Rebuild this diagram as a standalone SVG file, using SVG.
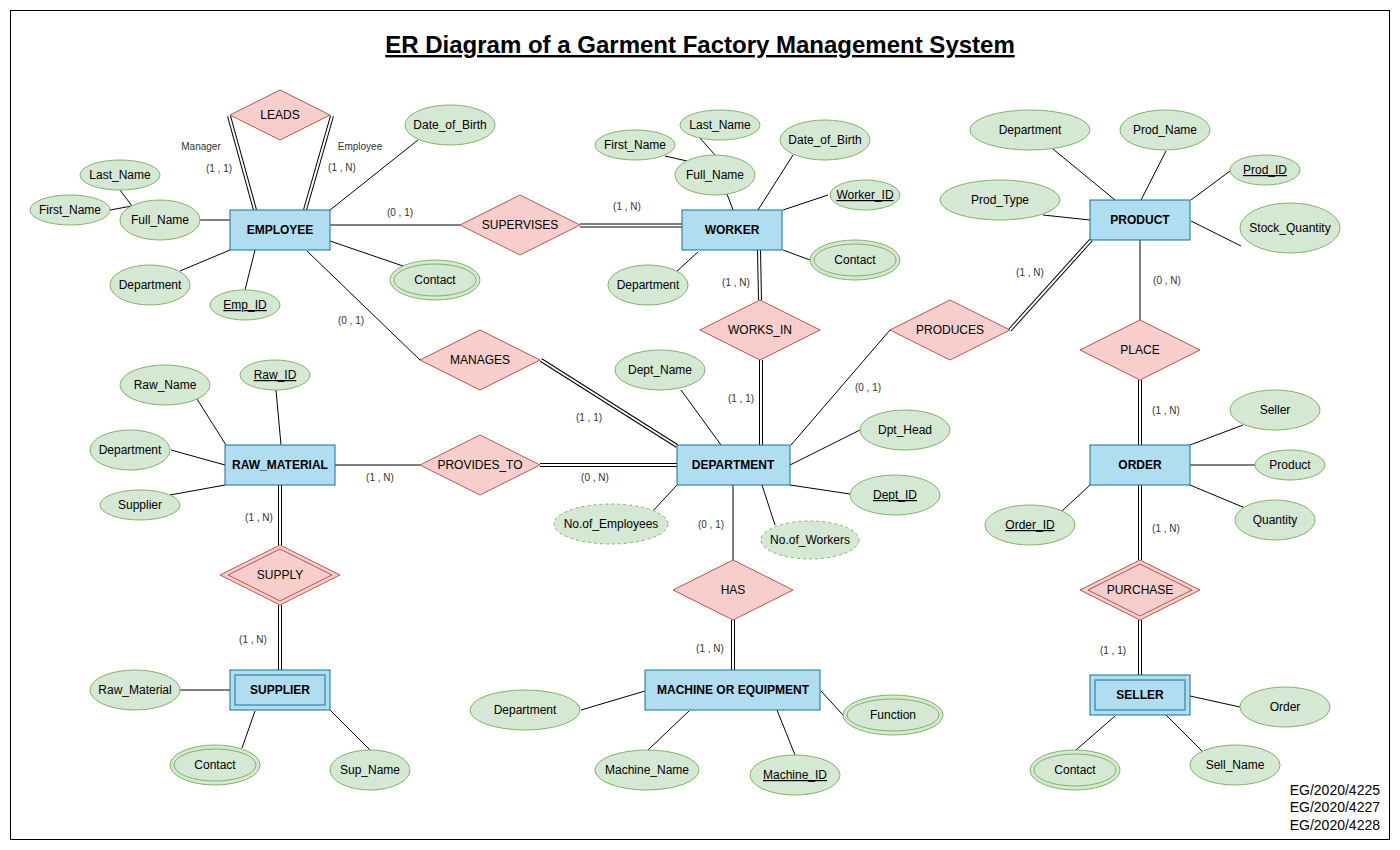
<svg xmlns="http://www.w3.org/2000/svg" width="1400" height="850" viewBox="0 0 1400 850">
<style>
.ent{fill:#b1ddf0;stroke:#10739e;stroke-width:1}
.att{fill:#d5e8d4;stroke:#82b366;stroke-width:1}
.rel{fill:#f8cecc;stroke:#b85450;stroke-width:1}
.der{stroke-dasharray:3 3}
.t{font-family:"Liberation Sans",Arial,sans-serif;font-size:12px;text-anchor:middle;fill:#000}
.b{font-weight:bold}
.u{text-decoration:underline}
.c{font-family:"Liberation Sans",Arial,sans-serif;font-size:10px;text-anchor:middle;fill:#333}
.ln{stroke:#000;stroke-width:1;fill:none}
.d1{stroke:#000;stroke-width:4;fill:none}
.d2{stroke:#fff;stroke-width:2;fill:none}
</style>
<rect x="10.5" y="10.5" width="1379" height="829" fill="#fff" stroke="#000"/>
<text x="700" y="53" font-family="Liberation Sans, Arial, sans-serif" font-size="24" font-weight="bold" text-anchor="middle" text-decoration="underline">ER Diagram of a Garment Factory Management System</text>

<g id="connectors">
<g class="ln">
<path d="M330,225 L460,225"/>
<path d="M307,251 L420,360"/>
<path d="M335,465 L420,465"/>
<path d="M791,445 L890,330"/>
<path d="M1140,240 L1140,320"/>
<path d="M733,485 L733,560"/>
<path d="M200,220 L230,220"/>
<path d="M120,190 L132,206"/>
<path d="M110,210 L132,206"/>
<path d="M180,271 L230,250"/>
<path d="M245,290 L255,250"/>
<path d="M330,241 L403,266"/>
<path d="M418,140 L330,210"/>
<path d="M665,156 L687,161"/>
<path d="M700,138 L715,155"/>
<path d="M727,194 L733,210"/>
<path d="M793,155 L758,210"/>
<path d="M828,195 L783,210"/>
<path d="M810,260 L783,250"/>
<path d="M676,272 L698,252"/>
<path d="M1053,149 L1115,200"/>
<path d="M1166,151 L1141,200"/>
<path d="M1230,171 L1191,200"/>
<path d="M1043,215 L1090,220"/>
<path d="M1191,221 L1241,246"/>
<path d="M1243,425 L1190,445"/>
<path d="M1255,465 L1190,465"/>
<path d="M1245,508 L1190,485"/>
<path d="M1062,511 L1090,485"/>
<path d="M1240,707 L1190,696"/>
<path d="M1076,750 L1115,716"/>
<path d="M1203,752 L1166,715"/>
<path d="M197,399 L226,445"/>
<path d="M276,390 L281,445"/>
<path d="M171,450 L225,465"/>
<path d="M170,495 L225,485"/>
<path d="M180,690 L230,690"/>
<path d="M242,748 L255,711"/>
<path d="M370,750 L330,710"/>
<path d="M681,390 L721,445"/>
<path d="M860,430 L790,465"/>
<path d="M850,494 L790,485"/>
<path d="M775,525 L762,485"/>
<path d="M652,512 L677,485"/>
<path d="M581,710 L645,691"/>
<path d="M648,750 L689,711"/>
<path d="M795,755 L777,710"/>
<path d="M843,715 L821,691"/>
</g>
<g class="d1">
<path d="M229,116 L255,210"/>
<path d="M332,116 L305,210"/>
<path d="M580,225.5 L682,225.5"/>
<path d="M759,250 L760,300"/>
<path d="M761,360 L761,445"/>
<path d="M541,360 L677,446"/>
<path d="M540,465 L677,465"/>
<path d="M1010,330 L1091,240"/>
<path d="M1140,380 L1140,445"/>
<path d="M1140,485 L1140,560"/>
<path d="M1140,620 L1140,675"/>
<path d="M280,485 L280,545"/>
<path d="M280,605 L280,670"/>
<path d="M733,620 L733,670"/>
</g>
<g class="d2">
<path d="M229,116 L255,210"/>
<path d="M332,116 L305,210"/>
<path d="M580,225.5 L682,225.5"/>
<path d="M759,250 L760,300"/>
<path d="M761,360 L761,445"/>
<path d="M541,360 L677,446"/>
<path d="M540,465 L677,465"/>
<path d="M1010,330 L1091,240"/>
<path d="M1140,380 L1140,445"/>
<path d="M1140,485 L1140,560"/>
<path d="M1140,620 L1140,675"/>
<path d="M280,485 L280,545"/>
<path d="M280,605 L280,670"/>
<path d="M733,620 L733,670"/>
</g>
<g id="cardinalities">
<text class="c" x="201" y="150">Manager</text>
<text class="c" x="360" y="150">Employee</text>
<text class="c" x="219" y="172">(1 , 1)</text>
<text class="c" x="342" y="171">(1 , N)</text>
<text class="c" x="400" y="216">(0 , 1)</text>
<text class="c" x="627" y="210">(1 , N)</text>
<text class="c" x="736" y="286">(1 , N)</text>
<text class="c" x="351" y="324">(0 , 1)</text>
<text class="c" x="589" y="421">(1 , 1)</text>
<text class="c" x="741" y="402">(1 , 1)</text>
<text class="c" x="868" y="391">(0 , 1)</text>
<text class="c" x="1030" y="276">(1 , N)</text>
<text class="c" x="1167" y="284">(0 , N)</text>
<text class="c" x="1166" y="414">(1 , N)</text>
<text class="c" x="1166" y="532">(1 , N)</text>
<text class="c" x="1113" y="654">(1 , 1)</text>
<text class="c" x="380" y="481">(1 , N)</text>
<text class="c" x="595" y="481">(0 , N)</text>
<text class="c" x="259" y="521">(1 , N)</text>
<text class="c" x="253" y="643">(1 , N)</text>
<text class="c" x="711" y="528">(0 , 1)</text>
<text class="c" x="710" y="652">(1 , N)</text>
</g>
</g>

<!-- Entities -->
<g id="employee"><rect class="ent" x="230" y="210" width="100" height="40"/><text class="t b" x="280" y="234">EMPLOYEE</text></g>
<g id="worker"><rect class="ent" x="682" y="210" width="100" height="40"/><text class="t b" x="732" y="234">WORKER</text></g>
<g id="product"><rect class="ent" x="1090" y="200" width="100" height="40"/><text class="t b" x="1140" y="224">PRODUCT</text></g>
<g id="order"><rect class="ent" x="1090" y="445" width="100" height="40"/><text class="t b" x="1140" y="469">ORDER</text></g>
<g id="department"><rect class="ent" x="677" y="445" width="113" height="40"/><text class="t b" x="733" y="469">DEPARTMENT</text></g>
<g id="raw_material"><rect class="ent" x="225" y="445" width="110" height="40"/><text class="t b" x="280" y="469">RAW_MATERIAL</text></g>
<g id="machine"><rect class="ent" x="645" y="670" width="175" height="40"/><text class="t b" x="733" y="694">MACHINE OR EQUIPMENT</text></g>
<g id="supplier"><rect class="ent" x="230" y="670" width="100" height="40"/><rect class="ent" x="235" y="675" width="90" height="30"/><text class="t b" x="280" y="694">SUPPLIER</text></g>
<g id="seller"><rect class="ent" x="1090" y="675" width="100" height="40"/><rect class="ent" x="1095" y="680" width="90" height="30"/><text class="t b" x="1140" y="699">SELLER</text></g>

<!-- Relationships -->
<g id="leads"><polygon class="rel" points="280,90 330,115 280,140 230,115"/><text class="t" x="280" y="119">LEADS</text></g>
<g id="supervises"><polygon class="rel" points="520,195 580,225 520,255 460,225"/><text class="t" x="520" y="229">SUPERVISES</text></g>
<g id="works_in"><polygon class="rel" points="760,300 820,330 760,360 700,330"/><text class="t" x="760" y="334">WORKS_IN</text></g>
<g id="manages"><polygon class="rel" points="480,330 540,360 480,390 420,360"/><text class="t" x="480" y="364">MANAGES</text></g>
<g id="produces"><polygon class="rel" points="950,300 1010,330 950,360 890,330"/><text class="t" x="950" y="334">PRODUCES</text></g>
<g id="place"><polygon class="rel" points="1140,320 1200,350 1140,380 1080,350"/><text class="t" x="1140" y="354">PLACE</text></g>
<g id="provides_to"><polygon class="rel" points="480,435 540,465 480,495 420,465"/><text class="t" x="480" y="469">PROVIDES_TO</text></g>
<g id="has"><polygon class="rel" points="733,560 793,590 733,620 673,590"/><text class="t" x="733" y="594">HAS</text></g>
<g id="supply"><polygon class="rel" points="280,545 340,575 280,605 220,575"/><polygon class="rel" points="280,549 332,575 280,601 228,575"/><text class="t" x="280" y="579">SUPPLY</text></g>
<g id="purchase"><polygon class="rel" points="1140,560 1200,590 1140,620 1080,590"/><polygon class="rel" points="1140,564 1192,590 1140,616 1088,590"/><text class="t" x="1140" y="594">PURCHASE</text></g>

<!-- Employee attributes -->
<g id="emp_dob"><ellipse class="att" cx="450" cy="125" rx="45" ry="20"/><text class="t" x="450" y="129">Date_of_Birth</text></g>
<g id="emp_fullname"><ellipse class="att" cx="160" cy="220" rx="40" ry="20"/><text class="t" x="160" y="224">Full_Name</text></g>
<g id="emp_lastname"><ellipse class="att" cx="120" cy="175" rx="40" ry="15"/><text class="t" x="120" y="179">Last_Name</text></g>
<g id="emp_firstname"><ellipse class="att" cx="70" cy="210" rx="40" ry="15"/><text class="t" x="70" y="214">First_Name</text></g>
<g id="emp_dept"><ellipse class="att" cx="150" cy="285" rx="40" ry="20"/><text class="t" x="150" y="289">Department</text></g>
<g id="emp_id"><ellipse class="att" cx="245" cy="305" rx="35" ry="15"/><text class="t u" x="245" y="309">Emp_ID</text></g>
<g id="emp_contact"><ellipse class="att" cx="435" cy="280" rx="45" ry="20"/><ellipse class="att" cx="435" cy="280" rx="41" ry="16"/><text class="t" x="435" y="284">Contact</text></g>

<!-- Worker attributes -->
<g id="wk_firstname"><ellipse class="att" cx="635" cy="145" rx="40" ry="15"/><text class="t" x="635" y="149">First_Name</text></g>
<g id="wk_lastname"><ellipse class="att" cx="720" cy="125" rx="40" ry="15"/><text class="t" x="720" y="129">Last_Name</text></g>
<g id="wk_fullname"><ellipse class="att" cx="715" cy="175" rx="40" ry="20"/><text class="t" x="715" y="179">Full_Name</text></g>
<g id="wk_dob"><ellipse class="att" cx="825" cy="140" rx="45" ry="20"/><text class="t" x="825" y="144">Date_of_Birth</text></g>
<g id="wk_id"><ellipse class="att" cx="865" cy="195" rx="35" ry="15"/><text class="t u" x="865" y="199">Worker_ID</text></g>
<g id="wk_contact"><ellipse class="att" cx="855" cy="260" rx="45" ry="20"/><ellipse class="att" cx="855" cy="260" rx="41" ry="16"/><text class="t" x="855" y="264">Contact</text></g>
<g id="wk_dept"><ellipse class="att" cx="648" cy="285" rx="40" ry="20"/><text class="t" x="648" y="289">Department</text></g>

<!-- Product attributes -->
<g id="pr_dept"><ellipse class="att" cx="1030" cy="130" rx="60" ry="20"/><text class="t" x="1030" y="134">Department</text></g>
<g id="pr_name"><ellipse class="att" cx="1165" cy="130" rx="45" ry="20"/><text class="t" x="1165" y="134">Prod_Name</text></g>
<g id="pr_id"><ellipse class="att" cx="1265" cy="170" rx="35" ry="15"/><text class="t u" x="1265" y="174">Prod_ID</text></g>
<g id="pr_type"><ellipse class="att" cx="1000" cy="200" rx="60" ry="20"/><text class="t" x="1000" y="204">Prod_Type</text></g>
<g id="pr_stock"><ellipse class="att" cx="1290" cy="228" rx="50" ry="25"/><text class="t" x="1290" y="232">Stock_Quantity</text></g>

<!-- Order attributes -->
<g id="or_seller"><ellipse class="att" cx="1275" cy="410" rx="45" ry="20"/><text class="t" x="1275" y="414">Seller</text></g>
<g id="or_product"><ellipse class="att" cx="1290" cy="465" rx="35" ry="15"/><text class="t" x="1290" y="469">Product</text></g>
<g id="or_qty"><ellipse class="att" cx="1275" cy="520" rx="40" ry="20"/><text class="t" x="1275" y="524">Quantity</text></g>
<g id="or_id"><ellipse class="att" cx="1030" cy="525" rx="45" ry="20"/><text class="t u" x="1030" y="529">Order_ID</text></g>

<!-- Seller attributes -->
<g id="se_order"><ellipse class="att" cx="1285" cy="707" rx="45" ry="20"/><text class="t" x="1285" y="711">Order</text></g>
<g id="se_contact"><ellipse class="att" cx="1075" cy="770" rx="45" ry="20"/><ellipse class="att" cx="1075" cy="770" rx="41" ry="16"/><text class="t" x="1075" y="774">Contact</text></g>
<g id="se_name"><ellipse class="att" cx="1235" cy="765" rx="45" ry="20"/><text class="t" x="1235" y="769">Sell_Name</text></g>

<!-- Raw material attributes -->
<g id="rm_name"><ellipse class="att" cx="165" cy="385" rx="45" ry="20"/><text class="t" x="165" y="389">Raw_Name</text></g>
<g id="rm_id"><ellipse class="att" cx="275" cy="375" rx="35" ry="15"/><text class="t u" x="275" y="379">Raw_ID</text></g>
<g id="rm_dept"><ellipse class="att" cx="130" cy="450" rx="40" ry="20"/><text class="t" x="130" y="454">Department</text></g>
<g id="rm_supplier"><ellipse class="att" cx="140" cy="505" rx="40" ry="15"/><text class="t" x="140" y="509">Supplier</text></g>

<!-- Supplier attributes -->
<g id="su_raw"><ellipse class="att" cx="135" cy="690" rx="45" ry="20"/><text class="t" x="135" y="694">Raw_Material</text></g>
<g id="su_contact"><ellipse class="att" cx="215" cy="765" rx="45" ry="20"/><ellipse class="att" cx="215" cy="765" rx="41" ry="16"/><text class="t" x="215" y="769">Contact</text></g>
<g id="su_name"><ellipse class="att" cx="370" cy="770" rx="40" ry="20"/><text class="t" x="370" y="774">Sup_Name</text></g>

<!-- Department attributes -->
<g id="de_name"><ellipse class="att" cx="660" cy="370" rx="45" ry="20"/><text class="t" x="660" y="374">Dept_Name</text></g>
<g id="de_head"><ellipse class="att" cx="905" cy="430" rx="45" ry="20"/><text class="t" x="905" y="434">Dpt_Head</text></g>
<g id="de_id"><ellipse class="att" cx="895" cy="495" rx="45" ry="20"/><text class="t u" x="895" y="499">Dept_ID</text></g>
<g id="de_noemp"><ellipse class="att der" cx="611" cy="524" rx="57" ry="20"/><text class="t" x="611" y="528">No.of_Employees</text></g>
<g id="de_nowk"><ellipse class="att der" cx="810" cy="540" rx="49" ry="19"/><text class="t" x="810" y="544">No.of_Workers</text></g>

<!-- Machine attributes -->
<g id="ma_dept"><ellipse class="att" cx="525" cy="710" rx="55" ry="20"/><text class="t" x="525" y="714">Department</text></g>
<g id="ma_name"><ellipse class="att" cx="647" cy="770" rx="52" ry="20"/><text class="t" x="647" y="774">Machine_Name</text></g>
<g id="ma_id"><ellipse class="att" cx="795" cy="775" rx="45" ry="20"/><text class="t u" x="795" y="779">Machine_ID</text></g>
<g id="ma_func"><ellipse class="att" cx="893" cy="715" rx="50" ry="20"/><ellipse class="att" cx="893" cy="715" rx="46" ry="16"/><text class="t" x="893" y="719">Function</text></g>

<g id="authors" font-family="Liberation Sans, Arial, sans-serif" font-size="14" text-anchor="end" fill="#000">
<text x="1380" y="795">EG/2020/4225</text>
<text x="1380" y="812">EG/2020/4227</text>
<text x="1380" y="830">EG/2020/4228</text>
</g>
</svg>
